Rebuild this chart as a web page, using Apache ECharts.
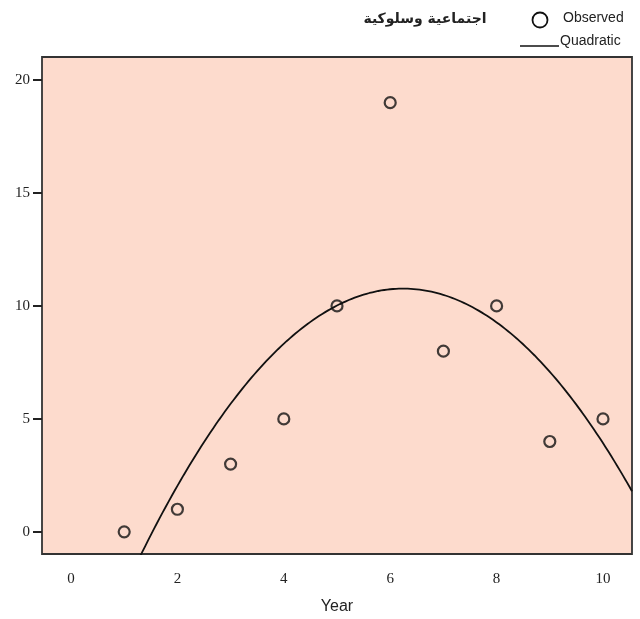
<!DOCTYPE html>
<html><head><meta charset="utf-8">
<script src="https://cdn.jsdelivr.net/npm/echarts@6/dist/echarts.min.js"></script>
<style>html,body{margin:0;padding:0;background:#fff}#c{width:640px;height:619px}</style>
</head><body><div id="c"></div>
<script>
const years = [1, 2, 3, 4, 5, 6, 7, 8, 9, 10];
const observed = [0, 1, 3, 5, 10, 19, 8, 10, 4, 5];
const xTicks = [0, 2, 4, 6, 8, 10];
const yTicks = [0, 5, 10, 15, 20];
const titleText = 'اجتماعية وسلوكية';
const xName = 'Year';

// least-squares quadratic fit derived from the observed data
function quadFit(xs, ys) {
  let S = [0,0,0,0,0], T = [0,0,0];
  for (let i = 0; i < xs.length; i++) {
    let p = 1;
    for (let k = 0; k < 5; k++) { S[k] += p; if (k < 3) T[k] += p * ys[i]; p *= xs[i]; }
  }
  const A = [[S[0],S[1],S[2],T[0]],[S[1],S[2],S[3],T[1]],[S[2],S[3],S[4],T[2]]];
  for (let i = 0; i < 3; i++) {
    for (let j = i + 1; j < 3; j++) {
      const f = A[j][i] / A[i][i];
      for (let k = i; k < 4; k++) A[j][k] -= f * A[i][k];
    }
  }
  const c = [0,0,0];
  for (let i = 2; i >= 0; i--) {
    let s = A[i][3];
    for (let k = i + 1; k < 3; k++) s -= A[i][k] * c[k];
    c[i] = s / A[i][i];
  }
  return c;
}
const coef = quadFit(years, observed);
const xMin = -0.545, xMax = 10.545, yMin = -0.98, yMax = 21.02;
const curve = [];
for (let i = 0; i <= 200; i++) {
  const x = xMin + (xMax - xMin) * i / 200;
  curve.push([x, coef[0] + coef[1] * x + coef[2] * x * x]);
}

const chart = echarts.init(document.getElementById('c'));
chart.setOption({
  animation: false,
  grid: { left: 42, right: 8, top: 57, bottom: 65, containLabel: false, outerBoundsMode: 'none',
    show: true, backgroundColor: '#FDDBCD', borderColor: '#333', borderWidth: 1.8 },
  title: { text: titleText, left: 420, top: 7, textAlign: 'center',
    textStyle: { fontFamily: 'DejaVu Sans', fontWeight: 'bold', fontSize: 14, color: '#222' } },
  graphic: [
    { type: 'circle', shape: { cx: 540, cy: 20, r: 7.5 }, style: { fill: 'none', stroke: '#111', lineWidth: 1.8 } },
    { type: 'text', left: 563, top: 11, style: { text: 'Observed', font: '14px "Liberation Sans Narrow", "Liberation Sans", Arial', fill: '#222' } },
    { type: 'line', shape: { x1: 520, y1: 46, x2: 559, y2: 46 }, style: { stroke: '#111', lineWidth: 1.5 } },
    { type: 'text', left: 560, top: 34, style: { text: 'Quadratic', font: '14px "Liberation Sans Narrow", "Liberation Sans", Arial', fill: '#222' } }
  ],
  xAxis: {
    type: 'value', min: xMin, max: xMax,
    name: xName, nameLocation: 'middle', nameGap: 45,
    nameTextStyle: { fontFamily: 'Liberation Sans', fontSize: 16, color: '#222' },
    axisLine: { show: false, onZero: false },
    axisTick: { show: false },
    splitLine: { show: false },
    axisLabel: { customValues: xTicks, margin: 18, fontFamily: 'Liberation Serif', fontSize: 15, color: '#222' }
  },
  yAxis: {
    type: 'value', min: yMin, max: yMax,
    axisLine: { show: false, onZero: false },
    axisTick: { show: true, customValues: yTicks, length: 9, lineStyle: { color: '#222', width: 2 } },
    splitLine: { show: false },
    axisLabel: { customValues: yTicks, margin: 12, fontFamily: 'Liberation Serif', fontSize: 15, color: '#222' }
  },
  series: [
    { type: 'line', data: curve, showSymbol: false, smooth: false, clip: true,
      lineStyle: { color: '#111', width: 1.8 }, z: 2 },
    { type: 'scatter', data: years.map((x, i) => [x, observed[i]]), symbol: 'circle', symbolSize: 11,
      itemStyle: { color: 'rgba(0,0,0,0)', borderColor: '#111', borderWidth: 2.2 }, z: 3 }
  ]
});
</script></body></html>
